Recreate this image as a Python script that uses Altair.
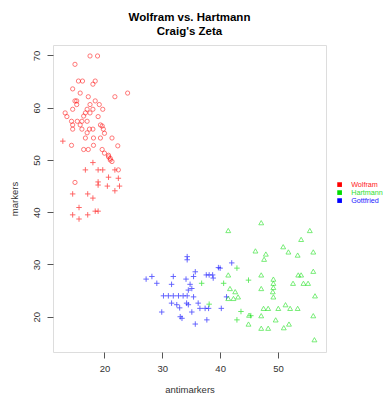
import altair as alt
import pandas as pd

categories = ["Wolfram", "Hartmann", "Gottfried"]
colors = ["#FF0000", "#00DD00", "#0000FF"]

wolfram_circle_x = [17.5, 18.8, 14.9, 15.5, 16.2, 18.4, 18.0, 14.5, 15.8, 17.2,
                    21.8, 24.0, 15.2, 14.9, 18.4, 17.5, 19.1, 19.7, 15.2, 14.5,
                    17.0, 18.0, 13.2, 16.7, 17.5, 13.5, 16.4, 18.9, 14.3, 15.3,
                    16.1, 17.0, 14.5, 15.8, 19.3, 19.6, 14.5, 16.1, 17.4, 18.0,
                    19.8, 17.0, 20.0, 16.7, 18.1, 19.3, 21.3, 14.3, 18.1, 22.3,
                    16.4, 17.2, 19.6, 20.0, 20.7, 21.0, 20.7, 21.0, 21.3, 22.4, 14.9]
wolfram_circle_y = [69.9, 69.9, 68.3, 65.1, 65.1, 65.1, 64.5, 63.6, 62.8, 62.1,
                    62.1, 62.8, 61.3, 61.3, 61.3, 60.6, 60.6, 59.7, 60.6, 59.7,
                    59.7, 59.7, 59.0, 59.0, 59.0, 58.3, 58.4, 58.3, 57.4, 57.4,
                    57.4, 57.4, 56.7, 56.7, 56.7, 56.5, 55.9, 55.9, 55.9, 55.9,
                    55.9, 55.2, 55.1, 54.2, 54.2, 54.2, 54.2, 52.8, 52.8, 52.7,
                    52.0, 52.0, 52.0, 51.3, 50.6, 50.0, 50.9, 50.3, 49.7, 48.1, 45.7]

wolfram_plus_x = [12.8, 18.0, 16.7, 18.9, 19.7, 21.8, 20.7, 22.4, 18.9, 18.9,
                  20.5, 22.6, 21.8, 14.5, 17.1, 18.0, 15.6, 18.4, 18.9, 14.5, 17.1, 15.6]
wolfram_plus_y = [53.6, 49.5, 48.1, 48.1, 48.1, 48.1, 46.7, 46.5, 45.8, 45.2,
                  45.0, 45.0, 44.1, 43.5, 43.5, 42.7, 40.9, 40.2, 40.2, 39.5, 39.5, 38.7]

gottfried_plus_x = [34.3, 34.3, 27.2, 28.2, 29.05, 31.9, 31.6, 34.1, 35.7, 35.4,
                    37.6, 38.1, 38.7, 39.7, 38.8, 34.8, 35.1, 34.5, 30.2, 31.05,
                    31.9, 32.8, 33.6, 34.3, 35.4, 31.6, 32.5, 34.2, 34.5, 36.2,
                    29.9, 33.0, 35.1, 36.5, 37.4, 38.0, 40.2, 33.1, 33.4, 35.7,
                    37.7, 42.0, 40.0, 41.1]
gottfried_plus_y = [31.5, 30.9, 27.2, 27.7, 26.4, 27.7, 26.2, 27.2, 28.6, 27.7,
                    28.0, 28.0, 28.0, 29.4, 27.4, 26.2, 25.4, 25.1, 24.0, 24.0,
                    24.0, 24.0, 24.0, 24.0, 23.8, 22.6, 22.3, 22.6, 22.3, 22.6,
                    20.9, 21.7, 20.9, 21.6, 21.6, 21.6, 21.6, 20.0, 19.7, 18.6,
                    19.4, 30.3, 29.3, 23.8]

hartmann_tri_x = [47.1, 41.4, 55.5, 54.0, 50.9, 51.8, 46.1, 47.9, 47.6, 53.4,
                  56.1, 56.1, 53.5, 54.0, 47.1, 41.4, 49.2, 49.2, 49.2, 52.6,
                  54.4, 55.2, 47.1, 49.1, 56.4, 49.2, 41.7, 42.6, 43.1, 41.4,
                  42.3, 47.5, 48.3, 50.05, 51.3, 52.1, 53.4, 56.1, 45.0, 47.1,
                  49.6, 44.9, 51.9, 47.1, 48.3, 51.0, 56.3]
hartmann_tri_y = [38.0, 36.5, 36.5, 34.8, 33.4, 32.4, 32.6, 32.0, 31.0, 31.8,
                  32.4, 28.7, 28.0, 28.0, 28.0, 28.0, 27.2, 26.4, 25.6, 26.4,
                  26.4, 26.4, 25.4, 24.8, 24.0, 23.8, 25.4, 24.8, 23.8, 23.5,
                  23.5, 21.6, 21.6, 21.6, 22.3, 21.6, 21.6, 20.2, 20.3, 20.2,
                  19.4, 18.6, 18.6, 17.8, 17.8, 17.9, 15.6]

hartmann_plus_x = [36.8, 38.1, 42.9, 40.6, 44.9, 43.6, 45.3, 42.9]
hartmann_plus_y = [26.4, 22.4, 29.3, 26.4, 27.0, 21.0, 20.2, 19.4]

x_ticks = [20, 30, 40, 50]
y_ticks = [20, 30, 40, 50, 60, 70]

rows = []
def add(xs, ys, who, shape):
    for a, b in zip(xs, ys):
        rows.append({"antimarkers": a, "markers": b, "author": who, "shape": shape})

add(wolfram_circle_x, wolfram_circle_y, "Wolfram", "circle")
add(wolfram_plus_x, wolfram_plus_y, "Wolfram", "plus")
add(gottfried_plus_x, gottfried_plus_y, "Gottfried", "plus")
add(hartmann_tri_x, hartmann_tri_y, "Hartmann", "triangle")
add(hartmann_plus_x, hartmann_plus_y, "Hartmann", "plus")
df = pd.DataFrame(rows)

FONT = "Liberation Sans"

xscale = alt.Scale(domain=[11.1, 58.3], nice=False, zero=False)
yscale = alt.Scale(domain=[13.25, 72], nice=False, zero=False)

legend = alt.Legend(
    title=None, orient="none", legendX=283, legendY=136,
    symbolType="square", symbolSize=22, symbolOpacity=1, symbolStrokeWidth=0,
    labelFontSize=7.2, labelFont=FONT, labelOffset=8, rowPadding=0, padding=0,
    labelColor=alt.ExprRef("datum.label == 'Wolfram' ? '#FF2020' : datum.label == 'Hartmann' ? '#30E030' : '#2020FF'"),
)

base = alt.Chart(df).encode(
    x=alt.X("antimarkers:Q", scale=xscale, title="antimarkers",
            axis=alt.Axis(values=x_ticks, grid=False, domain=False, tickSize=6,
                          tickColor="#555", labelColor="#333", labelFontSize=9.5,
                          labelPadding=5, titlePadding=12, titleFontSize=9.5,
                          titleFontWeight="normal", titleColor="#333",
                          labelFont=FONT, titleFont=FONT)),
    y=alt.Y("markers:Q", scale=yscale, title="markers",
            axis=alt.Axis(values=y_ticks, grid=False, domain=False, tickSize=6,
                          tickColor="#555", labelColor="#333", labelFontSize=9.5,
                          labelAngle=270, labelAlign="center", labelBaseline="bottom",
                          labelPadding=6, titlePadding=12, titleFontSize=9.5,
                          titleFontWeight="normal", titleColor="#333",
                          labelFont=FONT, titleFont=FONT)),
    color=alt.Color("author:N", scale=alt.Scale(domain=categories, range=colors), legend=legend),
)

legend_layer = base.mark_square(filled=True, size=0, opacity=1)
circles = base.transform_filter("datum.shape == 'circle'").mark_point(
    shape="circle", size=18, strokeWidth=0.8, opacity=0.65, filled=False)
pluses = base.transform_filter("datum.shape == 'plus'").mark_point(
    shape="M-1,0L1,0M0,-1L0,1", size=30, strokeWidth=0.9, opacity=0.65, filled=False)
tris = base.transform_filter("datum.shape == 'triangle'").mark_point(
    shape="triangle-up", size=24, strokeWidth=0.8, opacity=0.65, filled=False)

chart = alt.layer(legend_layer, circles, pluses, tris).properties(
    width=273, height=307,
    title=alt.Title(["Wolfram vs. Hartmann", "Craig's Zeta"], fontSize=11.5,
                    fontWeight="bold", font=FONT, anchor="middle", offset=8,
                    lineHeight=14, color="#000"),
    autosize=alt.AutoSizeParams(type="none"),
    padding={"left": 53, "top": 45, "right": 63, "bottom": 45},
).configure_view(stroke="#777", strokeWidth=1).configure(background="white")

chart.save("out.html", embed_options={"renderer": "svg", "actions": False})
